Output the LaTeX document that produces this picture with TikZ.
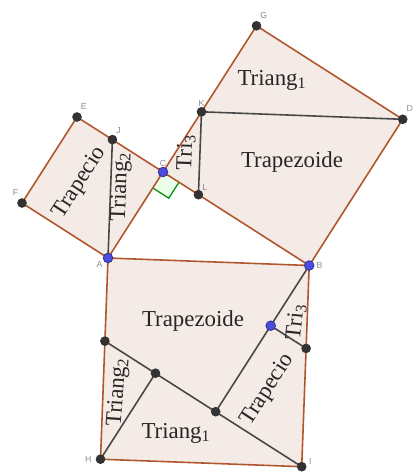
\documentclass[tikz,border=0pt]{standalone}
\usepackage{fontspec}
\setmainfont{Liberation Serif}
\newfontfamily\etiqfont{Liberation Sans}
\usepackage{xcolor}
\usepackage{tikz}
\usetikzlibrary{positioning}

\definecolor{relleno}{HTML}{F4EAE6}
\definecolor{borde}{HTML}{B0562C}
\definecolor{corte}{HTML}{474747}
\definecolor{azul}{HTML}{4B4BE0}

\begin{document}
\begin{tikzpicture}[
    x=0.02cm, y=-0.02cm,
    lado/.style={draw=borde, line width=0.9pt},
    cortar/.style={draw=corte, line width=0.9pt},
    punto/.style={circle, fill=black!80, inner sep=0pt, minimum size=5.5pt},
    puntoazul/.style={circle, fill=azul, draw=azul!60!black, inner sep=0pt, minimum size=5.5pt},
    etiq/.style={font=\etiqfont\fontsize{5}{6}\selectfont, text=black!45, inner sep=1pt},
    pieza/.style={font=\fontsize{13}{15}\selectfont, text=black!85, inner sep=0pt}
  ]
    \useasboundingbox (0,0) rectangle (417,473);
    % vertices
    \coordinate (A) at (108,258);
    \coordinate (B) at (309.2,265.5);
    \coordinate (C) at (163,172);
    \coordinate (E) at (77,117);
    \coordinate (F) at (22,203);
    \coordinate (G) at (256.5,25.8);
    \coordinate (D) at (402.7,119.3);
    \coordinate (H) at (100.5,459.2);
    \coordinate (I) at (301.7,466.7);
    \coordinate (J) at (112.4,139.6);
    \coordinate (K) at (201.5,111.8);
    \coordinate (L) at (198.4,194.7);
    % cuts in the big square
    \coordinate (m1) at (104.9,341.1);
    \coordinate (m2) at (155.5,373.2);
    \coordinate (m3) at (215.7,411.7);
    \coordinate (m4) at (270.7,325.7);
    \coordinate (m5) at (306.1,348.4);

    \fill[relleno] (A) -- (C) -- (E) -- (F) -- cycle;
    \fill[relleno] (C) -- (G) -- (D) -- (B) -- cycle;
    \fill[relleno] (A) -- (B) -- (I) -- (H) -- cycle;

    % right angle at C
    \fill[green!8] (C) -- (152.8,188) -- (168.8,198.2) -- (179,182.2) -- cycle;
    \draw[green!55!black, line width=0.7pt] (152.8,188) -- (168.8,198.2) -- (179,182.2);

    \draw[cortar] (A) -- (J);
    \draw[cortar] (K) -- (D);
    \draw[cortar] (K) -- (L);
    \draw[cortar] (m1) -- (I);
    \draw[cortar] (H) -- (m2);
    \draw[cortar] (m3) -- (B);
    \draw[cortar] (m4) -- (m5);

    \draw[lado] (A) -- (C) -- (E) -- (F) -- cycle;
    \draw[lado] (C) -- (G) -- (D) -- (B) -- cycle;
    \draw[lado] (A) -- (B) -- (I) -- (H) -- cycle;

    % points
    \foreach \p in {E,F,G,D,H,I,J,K,L,m1,m2,m3,m5}
      \node[punto] (pt\p) at (\p) {};
    \foreach \p in {A,B,C,m4}
      \node[puntoazul] (pt\p) at (\p) {};

    \node[etiq, above right=3pt and 1pt of G] (lG) {G};
    \node[etiq, above right=3pt and 1pt of D] (lD) {D};
    \node[etiq, above right=3pt and 1pt of E] (lE) {E};
    \node[etiq, above left=3pt and 1pt of F] (lF) {F};
    \node[etiq, above right=2pt and 1pt of J] (lJ) {J};
    \node[etiq, above=2pt of C] (lC) {C};
    \node[etiq, above=2pt of K] (lK) {K};
    \node[etiq, above right=1pt and 1pt of L] (lL) {L};
    \node[etiq, below left=1pt and 2pt of A] (lA) {A};
    \node[etiq, right=3pt of B] (lB) {B};
    \node[etiq, left=4pt of H] (lH) {H};
    \node[etiq, above right=0pt and 3pt of I] (lI) {I};

    % pieces
    \node[pieza] (tri1a) at (272,80) {Triang\textsubscript{1}};
    \node[pieza] (trapz1) at (292,162) {Trapezoide};
    \node[pieza, rotate=88] (tri3a) at (186,152) {Tri\textsubscript{3}};
    \node[pieza, rotate=57] (trapc1) at (80,183) {Trapecio};
    \node[pieza, rotate=88] (tri2a) at (121,187) {Triang\textsubscript{2}};
    \node[pieza] (trapz2) at (193,321) {Trapezoide};
    \node[pieza, rotate=86] (tri2b) at (118,392) {Triang\textsubscript{2}};
    \node[pieza] (tri1b) at (176,433) {Triang\textsubscript{1}};
    \node[pieza, rotate=57] (trapc2) at (268,390) {Trapecio};
    \node[pieza, rotate=84] (tri3b) at (296,322) {Tri\textsubscript{3}};
  \end{tikzpicture}
\end{document}
